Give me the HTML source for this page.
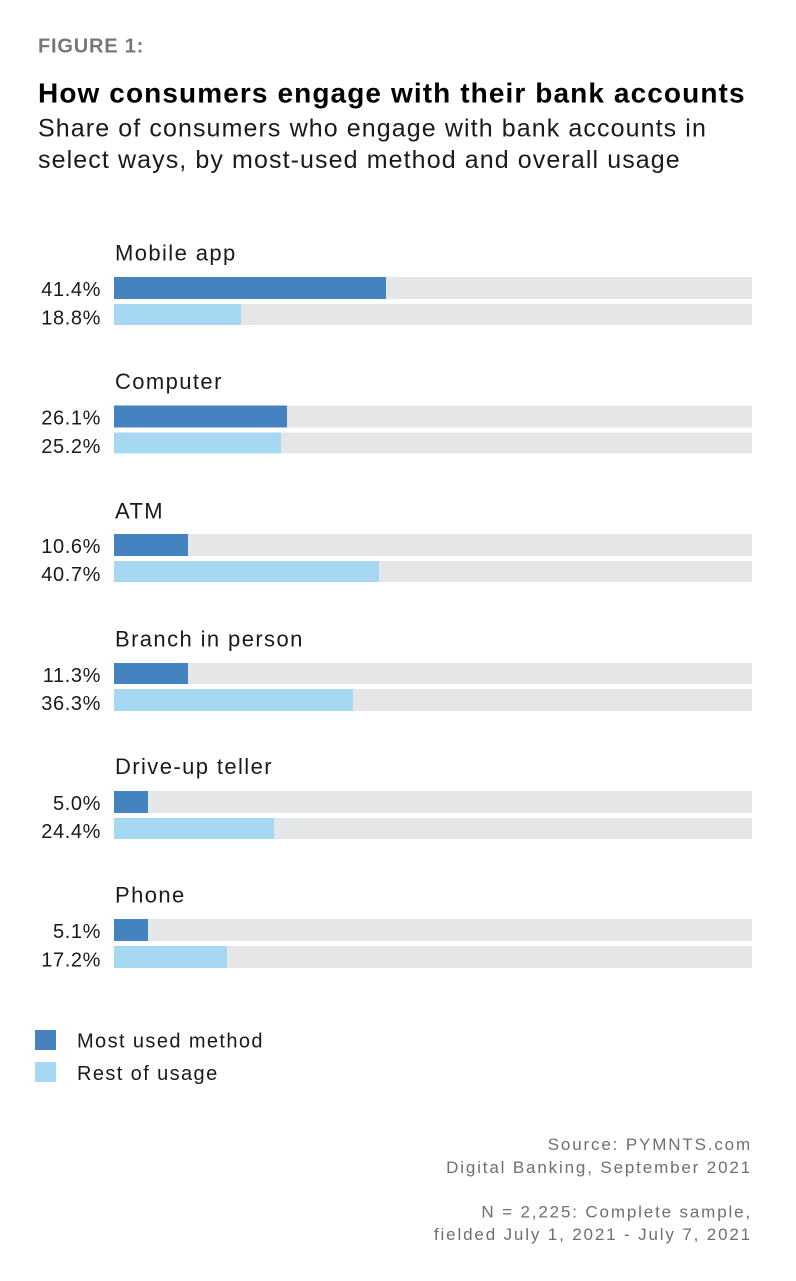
<!DOCTYPE html>
<html><head><meta charset="utf-8"><style>
html,body{margin:0;padding:0;background:#fff;}
svg{display:block;}
text{font-family:"Liberation Sans",sans-serif;}
</style></head><body>
<svg width="796" height="1281" viewBox="0 0 796 1281" xmlns="http://www.w3.org/2000/svg">
<rect width="796" height="1281" fill="#fff"/>
<text x="38" y="52.3" font-size="20" font-weight="bold" fill="#777" letter-spacing="0.8">FIGURE 1:</text>
<text x="38" y="102.3" font-size="28" font-weight="bold" fill="#000" letter-spacing="1.1">How consumers engage with their bank accounts</text>
<text x="38" y="136.7" font-size="25" fill="#1a1a1a" letter-spacing="1.1">Share of consumers who engage with bank accounts in</text>
<text x="38" y="168" font-size="25" fill="#1a1a1a" letter-spacing="1.1">select ways, by most-used method and overall usage</text>

<g id="bars">
<!-- Mobile app -->
<text x="115" y="260.7" font-size="22" fill="#1a1a1a" letter-spacing="1.4">Mobile app</text>
<rect x="114" y="277" width="638" height="22" fill="#e5e6e8"/>
<rect x="114" y="277" width="272" height="22" fill="#4583c0"/>
<rect x="114" y="304" width="638" height="21" fill="#e5e6e8"/>
<rect x="114" y="304" width="127" height="21" fill="#a7d8f3"/>
<text x="101" y="296" font-size="20" fill="#1a1a1a" text-anchor="end" letter-spacing="0.6">41.4%</text>
<text x="101" y="324.5" font-size="20" fill="#1a1a1a" text-anchor="end" letter-spacing="0.6">18.8%</text>

<!-- Computer -->
<text x="115" y="388.8" font-size="22" fill="#1a1a1a" letter-spacing="1.4">Computer</text>
<rect x="114" y="405.5" width="638" height="22" fill="#e5e6e8"/>
<rect x="114" y="405.5" width="173" height="22" fill="#4583c0"/>
<rect x="114" y="432.5" width="638" height="21" fill="#e5e6e8"/>
<rect x="114" y="432.5" width="167" height="21" fill="#a7d8f3"/>
<text x="101" y="424.5" font-size="20" fill="#1a1a1a" text-anchor="end" letter-spacing="0.6">26.1%</text>
<text x="101" y="453" font-size="20" fill="#1a1a1a" text-anchor="end" letter-spacing="0.6">25.2%</text>

<!-- ATM -->
<text x="115" y="518.3" font-size="22" fill="#1a1a1a" letter-spacing="1.4">ATM</text>
<rect x="114" y="534" width="638" height="22" fill="#e5e6e8"/>
<rect x="114" y="534" width="74" height="22" fill="#4583c0"/>
<rect x="114" y="561" width="638" height="21" fill="#e5e6e8"/>
<rect x="114" y="561" width="265" height="21" fill="#a7d8f3"/>
<text x="101" y="553" font-size="20" fill="#1a1a1a" text-anchor="end" letter-spacing="0.6">10.6%</text>
<text x="101" y="581" font-size="20" fill="#1a1a1a" text-anchor="end" letter-spacing="0.6">40.7%</text>

<!-- Branch -->
<text x="115" y="646.7" font-size="22" fill="#1a1a1a" letter-spacing="1.4">Branch in person</text>
<rect x="114" y="663" width="638" height="21" fill="#e5e6e8"/>
<rect x="114" y="663" width="74" height="21" fill="#4583c0"/>
<rect x="114" y="689" width="638" height="22" fill="#e5e6e8"/>
<rect x="114" y="689" width="239" height="22" fill="#a7d8f3"/>
<text x="101" y="682" font-size="20" fill="#1a1a1a" text-anchor="end" letter-spacing="0.6">11.3%</text>
<text x="101" y="710" font-size="20" fill="#1a1a1a" text-anchor="end" letter-spacing="0.6">36.3%</text>

<!-- Drive-up -->
<text x="115" y="774" font-size="22" fill="#1a1a1a" letter-spacing="1.4">Drive-up teller</text>
<rect x="114" y="791" width="638" height="22" fill="#e5e6e8"/>
<rect x="114" y="791" width="34" height="22" fill="#4583c0"/>
<rect x="114" y="818" width="638" height="21" fill="#e5e6e8"/>
<rect x="114" y="818" width="160" height="21" fill="#a7d8f3"/>
<text x="101" y="810" font-size="20" fill="#1a1a1a" text-anchor="end" letter-spacing="0.6">5.0%</text>
<text x="101" y="838" font-size="20" fill="#1a1a1a" text-anchor="end" letter-spacing="0.6">24.4%</text>

<!-- Phone -->
<text x="115" y="902.3" font-size="22" fill="#1a1a1a" letter-spacing="1.4">Phone</text>
<rect x="114" y="919" width="638" height="22" fill="#e5e6e8"/>
<rect x="114" y="919" width="34" height="22" fill="#4583c0"/>
<rect x="114" y="946" width="638" height="22" fill="#e5e6e8"/>
<rect x="114" y="946" width="113" height="22" fill="#a7d8f3"/>
<text x="101" y="938" font-size="20" fill="#1a1a1a" text-anchor="end" letter-spacing="0.6">5.1%</text>
<text x="101" y="966.5" font-size="20" fill="#1a1a1a" text-anchor="end" letter-spacing="0.6">17.2%</text>
</g>

<!-- Legend -->
<rect x="35" y="1030" width="21" height="20" fill="#4583c0"/>
<rect x="35" y="1062" width="21" height="20" fill="#a7d8f3"/>
<text x="77" y="1047.7" font-size="20" fill="#1a1a1a" letter-spacing="1.4">Most used method</text>
<text x="77" y="1080" font-size="20" fill="#1a1a1a" letter-spacing="1.4">Rest of usage</text>

<!-- Source -->
<g font-size="17" fill="#6f6f6f" text-anchor="end" letter-spacing="1.85">
<text x="752" y="1150">Source: PYMNTS.com</text>
<text x="752" y="1173">Digital Banking, September 2021</text>
<text x="752" y="1217.7">N = 2,225: Complete sample,</text>
<text x="752" y="1240">fielded July 1, 2021 - July 7, 2021</text>
</g>
</svg>
</body></html>
